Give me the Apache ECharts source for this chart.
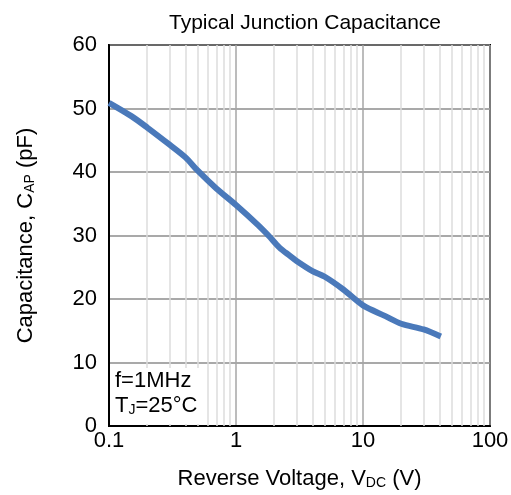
<!DOCTYPE html>
<html>
<head>
<meta charset="utf-8">
<script src="https://cdn.jsdelivr.net/npm/echarts@6/dist/echarts.min.js"></script>
<style>
  html, body { margin: 0; padding: 0; background: #fff; }
  #chart { width: 511px; height: 495px; }
</style>
</head>
<body>
<div id="chart"></div>
<script>
  // reverse voltage (V) and capacitance (pF)
  var voltage = [0.1, 0.15, 0.2, 0.3, 0.4, 0.5, 0.7, 1, 1.5, 1.8, 2.2, 2.66, 3, 4, 5, 7, 10, 15, 20, 30, 41]
  var capacitance = [50.9, 48.8, 47.0, 44.3, 42.3, 40.2, 37.4, 34.8, 31.6, 30.0, 28.1, 26.8, 26.0, 24.4, 23.5, 21.5, 19.0, 17.3, 16.1, 15.2, 14.1]
  // light vertical lines between the decades
  var minorLines = [0.2, 0.3, 0.4, 0.5, 0.6, 0.7, 0.8, 0.9,
    2, 3, 4, 5, 6, 7, 8, 9,
    20, 30, 40, 50, 60, 70, 80, 90]

  var font = "Liberation Sans, Arial, sans-serif"
  var chart = echarts.init(document.getElementById("chart"))

  chart.setOption({
    animation: false,
    title: {
      text: "Typical Junction Capacitance",
      left: 300,
      textAlign: "center",
      top: 8,
      textStyle: { fontFamily: font, fontSize: 21, fontWeight: "normal", color: "#000" }
    },
    grid: {
      left: 109, right: 21, top: 45, bottom: 69,
      outerBoundsMode: "none",
      containLabel: false,
      show: true,
      borderColor: "#000",
      borderWidth: 2,
      backgroundColor: "#fff"
    },
    xAxis: {
      type: "log",
      logBase: 10,
      min: 0.1,
      max: 100,
      name: "{n|Reverse Voltage, V}{s|DC}{n| (V)}",
      nameLocation: "middle",
      nameGap: 41,
      nameTextStyle: {
        rich: {
          n: { fontFamily: font, fontSize: 22, color: "#000" },
          s: { fontFamily: font, fontSize: 14, color: "#000", padding: [9, 0, 0, 0] }
        }
      },
      axisLine: { lineStyle: { color: "#000", width: 2 } },
      axisTick: { show: false },
      axisLabel: {
        fontFamily: font, fontSize: 22, color: "#000", margin: 4,
        formatter: function (v) { return String(v) }
      },
      splitLine: { show: true, lineStyle: { color: "#a6a6a6", width: 1.5 } }
    },
    yAxis: {
      type: "value",
      min: 0,
      max: 60,
      interval: 10,
      name: "{n|Capacitance, C}{s|AP}{n| (pF)}",
      nameLocation: "middle",
      nameGap: 72,
      nameTextStyle: {
        rich: {
          n: { fontFamily: font, fontSize: 22, color: "#000" },
          s: { fontFamily: font, fontSize: 14, color: "#000", padding: [9, 0, 0, 0] }
        }
      },
      axisLine: { show: true, lineStyle: { color: "#000", width: 2 } },
      axisTick: { show: false },
      axisLabel: { fontFamily: font, fontSize: 22, color: "#000", margin: 12 },
      splitLine: { show: true, lineStyle: { color: "#8c8c8c", width: 1.5 } }
    },
    graphic: [
      {
        // white box behind the test conditions
        type: "rect",
        left: 111,
        top: 368,
        z: 100,
        shape: { width: 94, height: 56 },
        style: { fill: "#fff" }
      },
      {
        type: "text",
        left: 115,
        top: 370,
        z: 101,
        style: {
          text: "{n|f=1MHz}\n{n|T}{s|J}{n|=25°C}",
          rich: {
            n: { fontFamily: font, fontSize: 22, fill: "#000", lineHeight: 25 },
            s: { fontFamily: font, fontSize: 14, fill: "#000", padding: [9, 0, 0, 0], lineHeight: 25 }
          }
        }
      }
    ],
    series: [
      {
        name: "Capacitance",
        type: "line",
        data: voltage.map(function (v, i) { return [v, capacitance[i]] }),
        smooth: 0.3,
        showSymbol: false,
        lineStyle: { color: "#4a79ba", width: 6 },
        z: 5,
        markLine: {
          silent: true,
          symbol: "none",
          label: { show: false },
          lineStyle: { color: "#dcdcdc", width: 1.5, type: "solid" },
          data: minorLines.map(function (v) { return { xAxis: v } }),
          z: 1
        }
      }
    ]
  })
</script>
</body>
</html>
